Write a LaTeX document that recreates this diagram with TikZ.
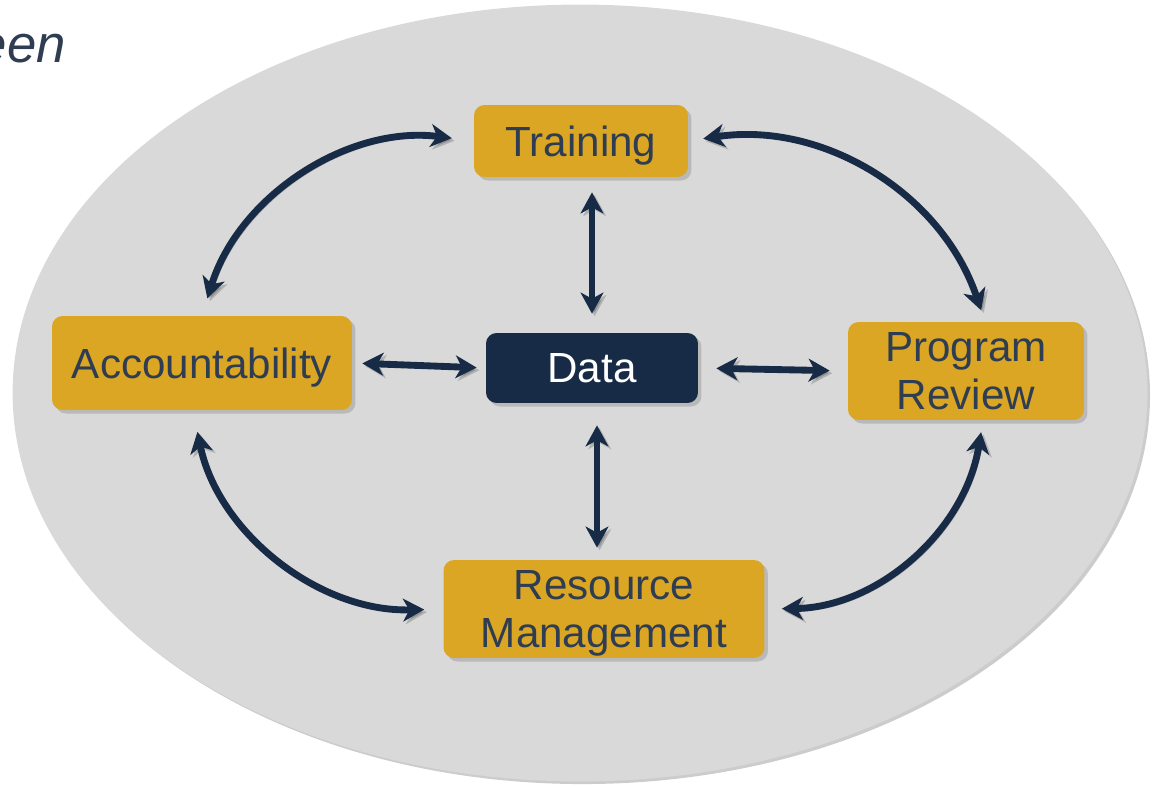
\documentclass[tikz,border=0pt]{standalone}
\usepackage{fontspec}
\setmainfont{Liberation Sans}
\usetikzlibrary{positioning,shadows,arrows.meta}

\definecolor{gold}{HTML}{DBA623}
\definecolor{navy}{HTML}{172B47}
\definecolor{slate}{HTML}{2F3D52}
\definecolor{cloud}{HTML}{D9D9D9}

\tikzset{
  box/.style={rounded corners=6pt, fill=gold, text=slate, align=center,
    font=\fontsize{24}{27}\selectfont, inner sep=0pt, text depth=0pt,
    drop shadow={shadow xshift=2pt, shadow yshift=-2pt, opacity=0.35}},
  hub/.style={box, fill=navy, text=white},
  link/.style={draw=navy, line width=3.9pt, >={Stealth[length=12pt,width=13pt,inset=3.5pt]}, <->,
    preaction={draw=black, opacity=0.18, transform canvas={shift={(1.5pt,-1.5pt)}}}},
}

\begin{document}
\begin{tikzpicture}[x=0.02cm, y=0.02cm]
\useasboundingbox (0,0) rectangle (1157,785);

\def\xl{202}
\def\xm{592}
\def\xr{966}

% background
\fill[cloud, drop shadow={shadow xshift=1.5pt, shadow yshift=-1.5pt, opacity=0.4}]
  (580,392) ellipse [x radius=11.35cm, y radius=7.77cm];

\node[anchor=base east, inner sep=0pt, text=slate, font=\fontsize{30}{32}\selectfont\itshape] (een) at (66,722) {een};

% the five boxes
\node[box, minimum width=4.28cm, minimum height=1.44cm] (train) at (581,644) {Training};
\node[box, minimum width=6cm, minimum height=1.88cm] (acc) at (\xl,422) {Accountability};
\node[hub, minimum width=4.24cm, minimum height=1.4cm] (data) at (\xm,417) {Data};
\node[box, minimum width=4.72cm, minimum height=1.96cm] (prog) at (\xr,414) {Program\\Review};
\node[box, minimum width=6.42cm, minimum height=1.96cm] (res) at (604,176) {Resource\\Management};

% spokes
\draw[link, shorten <=0.3cm, shorten >=0.38cm] (data.north |- train.south) -- (data.north);
\draw[link, shorten <=0.2cm, shorten >=0.18cm] (acc.east) -- (data.west);
\draw[link, shorten <=0.36cm, shorten >=0.36cm] (data.east) -- (prog.west);
\draw[link, shorten <=0.44cm, shorten >=0.24cm] ([xshift=0.1cm]data.south) -- ([xshift=0.1cm]data.south |- res.north);

% ring
\draw[link, shorten <=0.36cm, shorten >=0.44cm] (acc.north) to[bend left=40] (train.west);
\draw[link, shorten <=0.3cm, shorten >=0.24cm] (train.east) to[bend left=40] ([xshift=0.38cm]prog.north);
\draw[link, shorten <=0.34cm, shorten >=0.24cm] (res.east) to[bend right=40] ([xshift=0.34cm]prog.south);
\draw[link, shorten <=0.44cm, shorten >=0.38cm] ([xshift=-0.18cm]acc.south) to[bend right=40] (res.west);
\end{tikzpicture}
\end{document}
